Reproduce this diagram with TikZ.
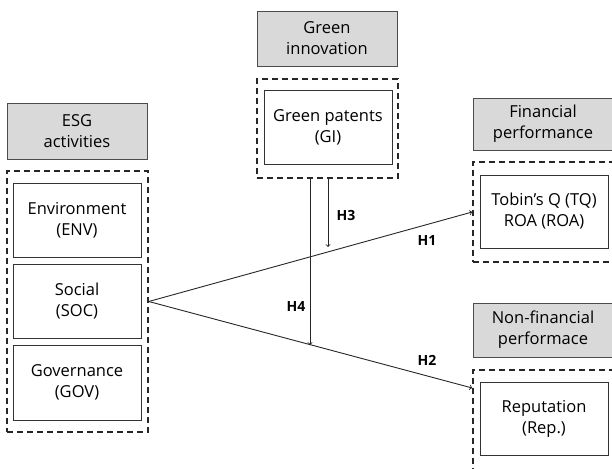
\documentclass[tikz,border=0pt]{standalone}
\usepackage{fontspec}
\setmainfont{Open Sans}
\usepackage{tikz}
\usetikzlibrary{arrows}

\begin{document}
\begin{tikzpicture}[x=1pt, y=-1pt,
		txt/.style={align=center, font=\fontsize{16.5}{21}\selectfont},
		head/.style={txt, draw=black!70, fill=black!15, line width=0.9pt, inner sep=0pt, minimum width=140pt},
		item/.style={txt, draw=black!80, line width=0.9pt, inner sep=0pt, minimum width=128pt},
		group/.style={draw=black!85, dashed, dash pattern=on 6pt off 4pt, line width=1.5pt, inner sep=0pt, minimum width=141pt},
		link/.style={->, >=to, draw=black!85, line width=0.9pt},
		hyp/.style={font=\fontsize{14}{16}\selectfont\bfseries}]
				\clip (0,0) rectangle (612,468);
				
				\node[head, minimum height=56pt] (esg) at (77,131) {ESG\\activities};
				\node[group, minimum height=261pt] (esgbox) at (77.5,301.5) {};
				\node[item, minimum height=74pt] (env) at (77,220) {Environment\\(ENV)};
				\node[item, minimum height=74pt] (soc) at (77,301) {Social\\(SOC)};
				\node[item, minimum height=75pt] (gov) at (77,382.5) {Governance\\(GOV)};
				
				\node[head, minimum height=55pt] (green) at (327,38.5) {Green\\innovation};
				\node[group, minimum height=99pt] (gibox) at (327.5,128.5) {};
				\node[item, minimum height=74pt] (gi) at (328,127) {Green patents\\(GI)};
				
				\node[head, minimum height=52pt] (fin) at (543,124) {Financial\\performance};
				\node[group, minimum height=100pt] (finbox) at (543.5,212) {};
				\node[item, minimum height=73pt] (tq) at (544,211.5) {Tobin's Q (TQ)\\ROA (ROA)};
				
				\node[head, minimum height=54pt] (nonfin) at (543,330) {Non-financial\\performace};
				\node[group, minimum height=110pt] (repbox) at (543.5,425) {};
				\node[item, minimum height=73pt] (rep) at (544,418.5) {Reputation\\(Rep.)};
				
				\coordinate (h2end) at (repbox.west |- 0,388);
				\coordinate (h3end) at (328,247);
				\coordinate (h4end) at (310,345);
				
				\draw[link] (esgbox.east) -- (finbox.west);
				\draw[link] (esgbox.east) -- (h2end);
				\draw[link] (gibox.south -| h3end) -- (h3end);
				\draw[link] (gibox.south -| h4end) -- (h4end);
				
				\foreach \name/\pos/\lbl in {l1/{(427,241)}/H1, l2/{(427,360)}/H2, l3/{(346,215)}/H3, l4/{(296,306)}/H4}
				\node[hyp] (\name) at \pos {\lbl};
\end{tikzpicture}
\end{document}
